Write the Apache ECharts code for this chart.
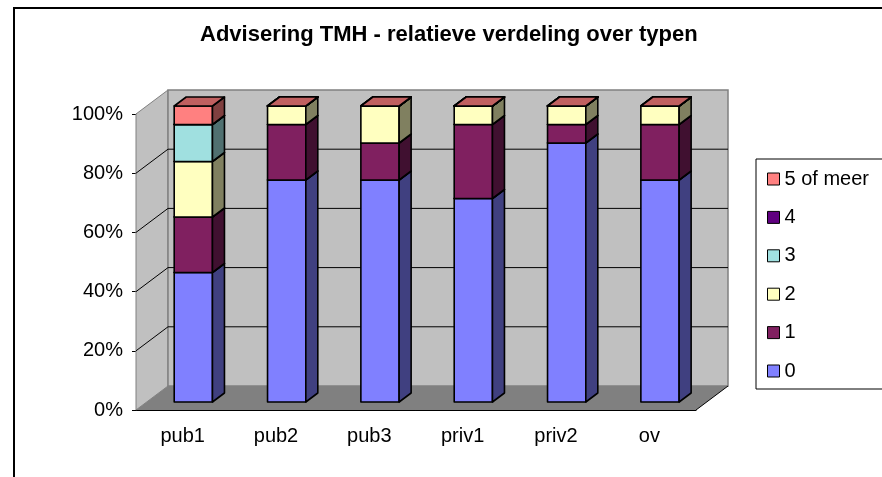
<!DOCTYPE html>
<html>
<head>
<meta charset="utf-8">
<title>Advisering TMH</title>
<script src="https://cdn.jsdelivr.net/npm/echarts@6/dist/echarts.min.js"></script>
<style>
    html, body {margin: 0; padding: 0; background: #fff;}
    #chart {width: 882px; height: 477px;}
</style>
</head>
<body>
<div id="chart"></div>
<script>
const categories = ["pub1", "pub2", "pub3", "priv1", "priv2", "ov"];
const seriesNames = ["0", "1", "2", "3", "4", "5 of meer"];
const val0 = [43.75, 75, 75, 68.75, 87.5, 75];
const val1 = [18.75, 18.75, 12.5, 25, 6.25, 18.75];
const val2 = [18.75, 6.25, 12.5, 6.25, 6.25, 6.25];
const val3 = [12.5, 0, 0, 0, 0, 0];
const val4 = [0, 0, 0, 0, 0, 0];
const val5 = [6.25, 0, 0, 0, 0, 0];
const yTicks = [0, 20, 40, 60, 80, 100];

// excel-ish palette: front, side (darker), top
const colors = [
    {front: "#8080FF", side: "#404080", top: "#6060C0"},
    {front: "#802060", side: "#401030", top: "#601848"},
    {front: "#FFFFC0", side: "#808060", top: "#C0C090"},
    {front: "#A0E0E0", side: "#507070", top: "#78A8A8"},
    {front: "#600080", side: "#300040", top: "#480060"},
    {front: "#FF8080", side: "#804040", top: "#C06060"},
];

const FONT = "Arial, 'Liberation Sans', sans-serif";
const DX = 32, DY = -24;          // depth of the 3d box
const BAR_FRONT = 1 / 3;          // bar front plane, fraction of depth
const BAR_DEPTH = 0.375;          // bar depth, fraction of depth
const BAR_WIDTH = 0.41;           // bar width, fraction of category band

const values = [val0, val1, val2, val3, val4, val5];

// walls, floor and gridlines of the 3d box
const renderWalls = (params, api) => {
    const cs = params.coordSys;
    const x0 = cs.x, x1 = cs.x + cs.width;
    const yTop = api.coord([0, yTicks[yTicks.length - 1]])[1];
    const yBot = api.coord([0, yTicks[0]])[1];
    const children = [
        {
            type: "polygon",
            shape: {points: [[x0, yTop], [x0 + DX, yTop + DY], [x0 + DX, yBot + DY], [x0, yBot]]},
            style: {fill: "#C0C0C0", stroke: "#808080", lineWidth: 1},
        },
        {
            type: "rect",
            shape: {x: x0 + DX, y: yTop + DY, width: x1 - x0, height: yBot - yTop},
            style: {fill: "#C0C0C0", stroke: "#808080", lineWidth: 1.5},
        },
        {
            type: "polygon",
            shape: {points: [[x0, yBot], [x0 + DX, yBot + DY], [x1 + DX, yBot + DY], [x1, yBot]]},
            style: {fill: "#808080"},
        },
        {
            type: "line",
            shape: {x1: x1, y1: yBot, x2: x1 + DX, y2: yBot + DY},
            style: {stroke: "#000", lineWidth: 1},
        },
    ];
    yTicks.slice(1, -1).forEach((t) => {
        const y = api.coord([0, t])[1];
        children.push({
            type: "polyline",
            shape: {points: [[x0, y], [x0 + DX, y + DY], [x1 + DX, y + DY]]},
            style: {stroke: "#000", lineWidth: 1, fill: null},
        });
    });
    return {type: "group", children};
};

const makeBarRenderer = (k) => (params, api) => {
    const c = api.value(0);
    const base = api.value(1);
    const v = api.value(2);
    const pb = api.coord([c, base]);
    const pt = api.coord([c, base + v]);
    const bw = api.size([1, 0])[0] * BAR_WIDTH;
    const fx = DX * BAR_FRONT, fy = DY * BAR_FRONT;
    const bdx = DX * BAR_DEPTH, bdy = DY * BAR_DEPTH;
    const xl = pb[0] + fx - bw / 2, xr = xl + bw;
    const yb = pb[1] + fy, yt = pt[1] + fy;
    const line = {stroke: "#000", lineWidth: 1.6, lineJoin: "round"};
    return {
        type: "group",
        children: [
            {
                type: "rect",
                shape: {x: xl, y: yt, width: bw, height: yb - yt},
                style: Object.assign({fill: colors[k].front}, line),
            },
            {
                type: "polygon",
                shape: {points: [[xr, yt], [xr + bdx, yt + bdy], [xr + bdx, yb + bdy], [xr, yb]]},
                style: Object.assign({fill: colors[k].side}, line),
            },
            {
                type: "polygon",
                shape: {points: [[xl, yt], [xl + bdx, yt + bdy], [xr + bdx, yt + bdy], [xr, yt]]},
                style: Object.assign({fill: colors[k].top}, line),
            },
        ],
    };
};

const barSeries = values.map((arr, k) => ({
    name: seriesNames[k],
    type: "custom",
    renderItem: makeBarRenderer(k),
    itemStyle: {color: colors[k].front},
    encode: {x: 0, y: 2},
    z: 3 + k,
    data: arr.map((v, i) => {
        let base = 0;
        for (let j = 0; j < k; j++) base += values[j][i];
        return [i, base, v];
    }),
}));

const chart = echarts.init(document.getElementById("chart"));

const option = {
    backgroundColor: "#fff",
    animation: false,
    title: {
        text: "Advisering TMH - relatieve verdeling over typen",
        left: 200,
        top: 24,
        padding: 0,
        textStyle: {fontFamily: FONT, fontSize: 22, fontWeight: "bold", color: "#000"},
    },
    legend: {
        orient: "vertical",
        left: 756,
        top: 159,
        padding: [10, 30, 8, 11],
        itemGap: 18.4,
        itemWidth: 12,
        itemHeight: 12,
        icon: "rect",
        backgroundColor: "#fff",
        borderColor: "#000",
        borderWidth: 1,
        itemStyle: {borderColor: "#000", borderWidth: 1},
        textStyle: {fontFamily: FONT, fontSize: 20, color: "#000"},
        data: seriesNames.slice().reverse(),
    },
    grid: {left: 136, right: 186, top: 114, bottom: 67},
    xAxis: {
        type: "category",
        data: categories,
        boundaryGap: true,
        axisLine: {lineStyle: {color: "#000", width: 1}},
        axisTick: {length: 5, lineStyle: {color: "#000"}},
        axisLabel: {fontFamily: FONT, fontSize: 20, color: "#000", margin: 16},
        splitLine: {show: false},
    },
    yAxis: {
        type: "value",
        min: 0,
        max: 100,
        interval: 20,
        axisLine: {show: true, lineStyle: {color: "#000", width: 1}},
        axisTick: {show: true, length: 4, lineStyle: {color: "#000"}},
        axisLabel: {fontFamily: FONT, fontSize: 20, color: "#000", margin: 13, formatter: "{value}%"},
        splitLine: {show: false},
    },
    graphic: [
        {
            type: "rect",
            shape: {x: 14, y: 8, width: 1000, height: 1000},
            style: {fill: null, stroke: "#000", lineWidth: 2},
            silent: true,
        },
    ],
    series: [
        {
            name: "walls",
            type: "custom",
            renderItem: renderWalls,
            encode: {x: 0, y: 1},
            z: 1,
            silent: true,
            data: [[0, 0]],
        },
        ...barSeries,
    ],
};

chart.setOption(option);
</script>
</body>
</html>
